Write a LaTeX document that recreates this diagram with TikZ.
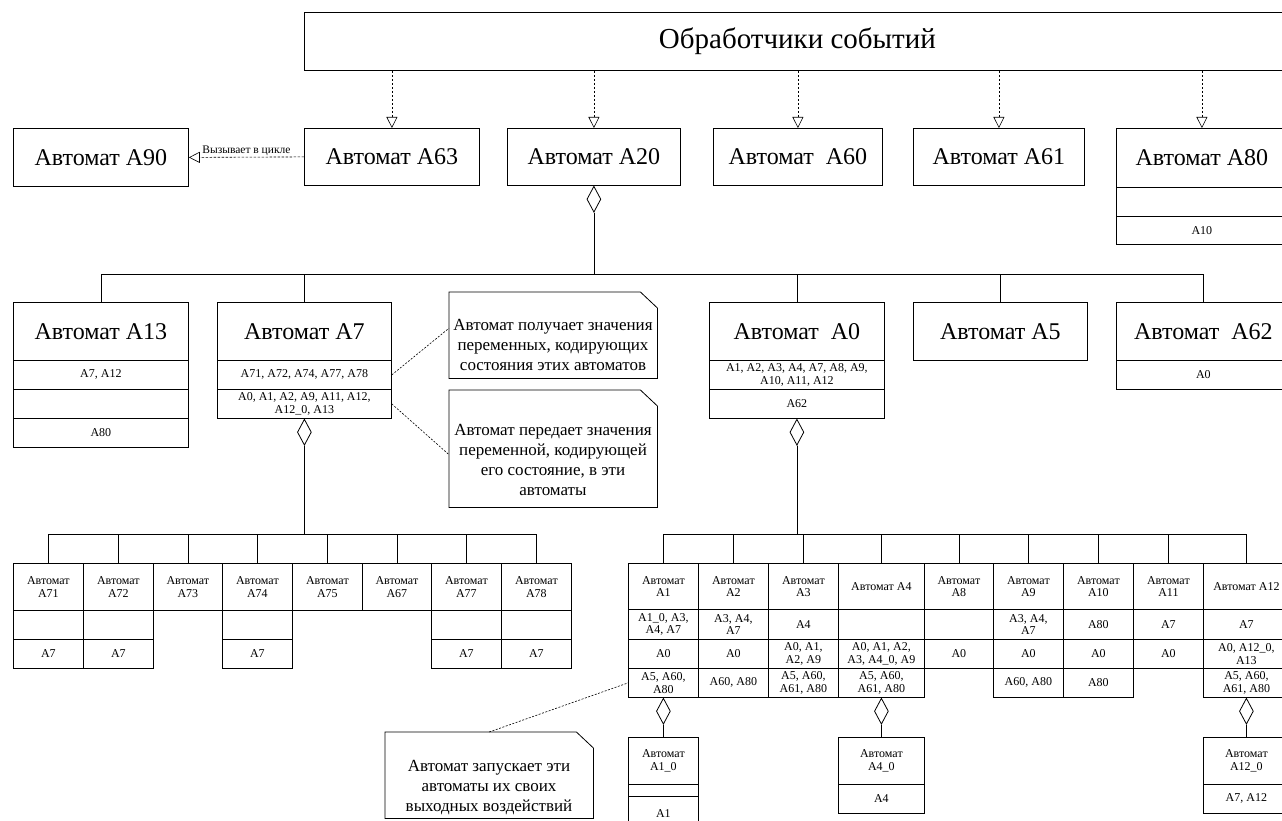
\documentclass[tikz,border=0pt]{standalone}
\usepackage{fontspec}
\setmainfont{Liberation Serif}
\usetikzlibrary{arrows.meta,shapes.geometric}
\newcommand\smf{\fontsize{12}{12.5}\selectfont}
\newcommand\bx[7][]{\node[cellbox,#1,minimum width=#5pt,minimum height=#6pt] (#2) at (#3,#4) {#7};}
\newcommand\notebx[5]{%
  \node[notebox,minimum width=#4pt,minimum height=#5pt] (#1) at (#2,#3) {};
  \draw[line width=0.8pt] (#1.north west) -- ([xshift=-17pt]#1.north east) -- ([yshift=-16pt]#1.north east) -- (#1.south east) -- (#1.south west) -- cycle;}
\begin{document}
\begin{tikzpicture}[x=1pt,y=-1pt,
  cellbox/.style={draw, rectangle, anchor=north west, inner sep=0pt, align=center, line width=0.8pt, font=\smf},
  big/.style={font=\fontsize{24}{28}\selectfont},
  huge/.style={font=\fontsize{29}{32}\selectfont},
  dep/.style={dash pattern=on 2.5pt off 1.5pt, line width=0.6pt, -{Triangle[open,length=11pt,width=11pt]}},
  agg/.style={diamond, draw, fill=white, line width=0.8pt, inner sep=0pt, minimum width=14pt, minimum height=26pt, anchor=north},
  tree/.style={line width=0.8pt},
  nline/.style={dash pattern=on 2pt off 1.5pt, line width=0.6pt},
  notebox/.style={anchor=north west, inner sep=0pt},
  notetext/.style={font=\fontsize{17}{20}\selectfont, align=center, inner sep=0pt}]
\useasboundingbox (0,0) rectangle (1282,821);
\clip (0,0) rectangle (1282,821);

% top
\bx[huge]{ev}{304}{12}{986}{58}{Обработчики событий}
\bx[big]{A90}{13}{128}{175}{58}{Автомат А90}
\bx[big]{A63}{304}{128}{175}{57}{Автомат А63}
\bx[big]{A20}{507}{128}{173}{57}{Автомат А20}
\bx[big]{A60}{713}{128}{169}{57}{Автомат~ А60}
\bx[big]{A61}{913}{128}{171}{57}{Автомат А61}
\bx[big]{A80}{1116}{128}{171}{59}{Автомат А80}
\bx{A80a}{1116}{187}{171}{29}{}
\bx{A80b}{1116}{216}{171}{28}{A10}

\foreach \n in {A63,A20,A60,A61,A80}{\draw[dep] (\n.north |- ev.south) -- (\n.north);}
\draw[dep] (A63.west) -- (A90.east) node[midway, above=0pt, inner sep=0.8pt, font=\fontsize{11.5}{12}\selectfont] (lbl) {Вызывает в цикле};

% second row
\bx[big]{A13}{13}{302}{175}{58}{Автомат А13}
\bx{A13a}{13}{360}{175}{29}{A7, A12}
\bx{A13b}{13}{389}{175}{29}{}
\bx{A13c}{13}{418}{175}{29}{A80}
\bx[big]{A7}{217}{302}{174}{58}{Автомат А7}
\bx{A7a}{217}{360}{174}{29}{A71, A72, A74, A77, A78}
\bx{A7b}{217}{389}{174}{29}{A0, A1, A2, A9, A11, A12,\\A12\_0, A13}
\bx[big]{A0}{709}{302}{175}{58}{Автомат~ А0}
\bx{A0a}{709}{360}{175}{29}{A1, A2, A3, A4, A7, A8, A9,\\A10, A11, A12}
\bx{A0b}{709}{389}{175}{29}{A62}
\bx[big]{A5}{913}{302}{174}{58}{Автомат А5}
\bx[big]{A62}{1116}{302}{174}{58}{Автомат~ А62}
\bx{A62a}{1116}{360}{174}{29}{A0}

\node[agg] (d20) at (A20.south) {};
\coordinate (b20) at (d20.south |- 0,274);
\foreach \n in {A13,A7,A0,A5,A62}{\draw[tree] (d20.south) -- (b20) -| (\n.north);}

% notes
\notebx{n1}{449}{292}{208}{86}
\node[notetext] (n1t) at (553,345) {Автомат получает значения\\переменных, кодирующих\\состояния этих автоматов};
\notebx{n2}{449}{390}{208}{117}
\node[notetext] (n2t) at (553,460) {Автомат передает значения\\переменной, кодирующей\\его состояние, в эти\\автоматы};
\draw[nline] (A7a.east) -- ([yshift=7pt]n1.west);
\draw[nline] (A7b.east) -- ([yshift=-6pt]n2.west);

% bottom left
\bx{A71}{13}{563}{70}{47}{Автомат\\А71}
\bx{A71a}{13}{610}{70}{29}{}
\bx{A71b}{13}{639}{70}{29}{A7}
\bx{A72}{83}{563}{70}{47}{Автомат\\А72}
\bx{A72a}{83}{610}{70}{29}{}
\bx{A72b}{83}{639}{70}{29}{A7}
\bx{A73}{153}{563}{69}{47}{Автомат\\А73}
\bx{A74}{222}{563}{70}{47}{Автомат\\А74}
\bx{A74a}{222}{610}{70}{29}{}
\bx{A74b}{222}{639}{70}{29}{A7}
\bx{A75}{292}{563}{70}{47}{Автомат\\А75}
\bx{A67}{362}{563}{69}{47}{Автомат\\А67}
\bx{A77}{431}{563}{70}{47}{Автомат\\А77}
\bx{A77a}{431}{610}{70}{29}{}
\bx{A77b}{431}{639}{70}{29}{A7}
\bx{A78}{501}{563}{70}{47}{Автомат\\А78}
\bx{A78a}{501}{610}{70}{29}{}
\bx{A78b}{501}{639}{70}{29}{A7}

\node[agg] (d7) at (A7b.south) {};
\coordinate (b7) at (d7.south |- 0,534);
\foreach \n in {A71,A72,A73,A74,A75,A67,A77,A78}{\draw[tree] (d7.south) -- (b7) -| (\n.north);}

% bottom right
\bx{A1}{628}{563}{70}{46}{Автомат\\А1}
\bx{A1a}{628}{609}{70}{30}{A1\_0, A3,\\A4, A7}
\bx{A1b}{628}{639}{70}{29}{A0}
\bx{A1c}{628}{668}{70}{29}{A5, A60,\\A80}
\bx{A2}{698}{563}{70}{46}{Автомат\\А2}
\bx{A2a}{698}{609}{70}{30}{A3, A4,\\A7}
\bx{A2b}{698}{639}{70}{29}{A0}
\bx{A2c}{698}{668}{70}{29}{A60, A80}
\bx{A3}{768}{563}{70}{46}{Автомат\\А3}
\bx{A3a}{768}{609}{70}{30}{A4}
\bx{A3b}{768}{639}{70}{29}{A0, A1,\\A2, A9}
\bx{A3c}{768}{668}{70}{29}{A5, A60,\\A61, A80}
\bx{A4}{838}{563}{86}{46}{Автомат А4}
\bx{A4a}{838}{609}{86}{30}{}
\bx{A4b}{838}{639}{86}{29}{A0, A1, A2,\\A3, A4\_0, A9}
\bx{A4c}{838}{668}{86}{29}{A5, A60,\\A61, A80}
\bx{A8}{924}{563}{69}{46}{Автомат\\А8}
\bx{A8a}{924}{609}{69}{30}{}
\bx{A8b}{924}{639}{69}{29}{A0}
\bx{A9}{993}{563}{70}{46}{Автомат\\А9}
\bx{A9a}{993}{609}{70}{30}{A3, A4,\\A7}
\bx{A9b}{993}{639}{70}{29}{A0}
\bx{A9c}{993}{668}{70}{29}{A60, A80}
\bx{A10}{1063}{563}{70}{46}{Автомат\\А10}
\bx{A10a}{1063}{609}{70}{30}{A80}
\bx{A10b}{1063}{639}{70}{29}{A0}
\bx{A10c}{1063}{668}{70}{29}{A80}
\bx{A11}{1133}{563}{70}{46}{Автомат\\А11}
\bx{A11a}{1133}{609}{70}{30}{A7}
\bx{A11b}{1133}{639}{70}{29}{A0}
\bx{A12}{1203}{563}{86}{46}{Автомат А12}
\bx{A12a}{1203}{609}{86}{30}{A7}
\bx{A12b}{1203}{639}{86}{29}{A0, A12\_0,\\A13}
\bx{A12c}{1203}{668}{86}{29}{A5, A60,\\A61, A80}

\node[agg] (d0) at (A0b.south) {};
\coordinate (b0) at (d0.south |- 0,534);
\foreach \n in {A1,A2,A3,A4,A8,A9,A10,A11,A12}{\draw[tree] (d0.south) -- (b0) -| (\n.north);}

% third level
\bx{A10x}{628}{737}{70}{47}{Автомат\\А1\_0}
\bx{A10xa}{628}{784}{70}{12}{}
\bx{A10xb}{628}{796}{70}{34}{A1}
\bx{A40x}{838}{737}{86}{47}{Автомат\\А4\_0}
\bx{A40xa}{838}{784}{86}{29}{A4}
\bx{A120x}{1203}{737}{86}{47}{Автомат\\А12\_0}
\bx{A120xa}{1203}{784}{86}{29}{A7, A12}

\node[agg] (d1) at (A1c.south) {};
\draw[tree] (d1.south) -- (A10x.north);
\node[agg] (d4) at (A4c.south) {};
\draw[tree] (d4.south) -- (A40x.north);
\node[agg] (d12) at (A12c.south) {};
\draw[tree] (d12.south) -- (A120x.north);

% note 3
\notebx{n3}{385}{732}{208}{86}
\node[notetext] (n3t) at (489,788) {Автомат запускает эти\\автоматы их своих\\выходных воздействий};
\draw[nline] (n3.north) -- (A1c.west);
\end{tikzpicture}
\end{document}
